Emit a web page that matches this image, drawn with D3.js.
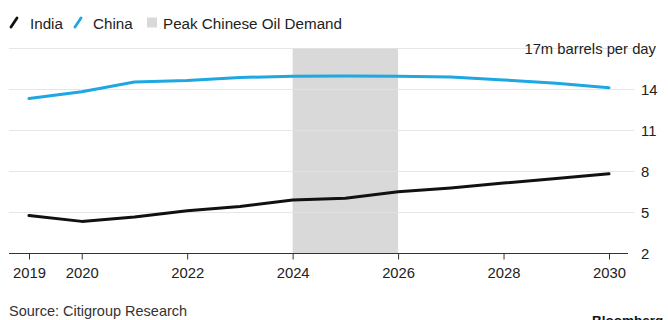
<!DOCTYPE html>
<html>
<head>
<meta charset="utf-8">
<script src="https://cdn.jsdelivr.net/npm/d3@7"></script>
<style>
  html, body { margin: 0; padding: 0; background: #fff; }
  svg { display: block; font-family: "Liberation Sans", Arial, Helvetica, sans-serif; }
</style>
</head>
<body>
<svg id="chart" width="668" height="320"></svg>
<script>
const years = [2019, 2020, 2021, 2022, 2023, 2024, 2025, 2026, 2027, 2028, 2029, 2030];
const india = [4.78, 4.35, 4.67, 5.12, 5.44, 5.92, 6.05, 6.52, 6.8, 7.15, 7.48, 7.83];
const china = [13.34, 13.83, 14.55, 14.65, 14.88, 14.97, 14.98, 14.97, 14.92, 14.7, 14.45, 14.12];
const xTicks = [2019, 2020, 2022, 2024, 2026, 2028, 2030];
const yTicks = [2, 5, 8, 11, 14, 17];
const peak = [2024, 2026];
const legendItems = ["India", "China", "Peak Chinese Oil Demand"];
const unitLabel = "m barrels per day";
const source = "Source: Citigroup Research";

const svg = d3.select("#chart");
const x = d3.scaleLinear().domain([2019, 2030]).range([29, 609]);
const y = d3.scaleLinear().domain([2, 17]).range([253.5, 48.5]);
const blue = "#1ea7e1";
const gridLeft = 9, gridRight = 634;
const fs = 14.8;

// shaded peak period
svg.append("rect")
  .attr("x", x(peak[0])).attr("width", x(peak[1]) - x(peak[0]))
  .attr("y", y(17)).attr("height", y(2) - y(17))
  .attr("fill", "#d9d9d9");

// gridlines
svg.append("g").selectAll("line").data(yTicks.slice(1)).join("line")
  .attr("x1", gridLeft).attr("x2", gridRight)
  .attr("y1", d => y(d)).attr("y2", d => y(d))
  .attr("stroke", "#e2e2e2").attr("stroke-width", 1)
  .attr("stroke-opacity", 0.85);

// y labels
svg.append("g").selectAll("text").data(yTicks).join("text")
  .attr("x", d => d === 17 ? 656 : 641)
  .attr("y", d => y(d) + 5)
  .attr("text-anchor", d => d === 17 ? "end" : "start")
  .attr("font-size", fs).attr("fill", "#222")
  .text(d => d === 17 ? d + unitLabel : d);

// x axis
const xAxis = d3.axisBottom(x).tickValues(xTicks).tickFormat(d3.format("d"))
  .tickSize(6).tickSizeOuter(0).tickPadding(8);
const gx = svg.append("g").attr("transform", `translate(0,${y(2)})`).call(xAxis);
gx.select(".domain").remove();
gx.append("line").attr("x1", gridLeft).attr("x2", 628).attr("y1", 0).attr("y2", 0)
  .attr("stroke", "#333").attr("stroke-width", 1.2);
gx.selectAll(".tick line").attr("stroke", "#333");
gx.selectAll(".tick text").attr("font-size", fs).attr("fill", "#222")
  .attr("font-family", "Liberation Sans, Arial, sans-serif");

// lines
const line = d3.line().x((d, i) => x(years[i])).y(d => y(d));
svg.append("path").datum(china).attr("d", line)
  .attr("fill", "none").attr("stroke", blue).attr("stroke-width", 3)
  .attr("stroke-linejoin", "round").attr("stroke-linecap", "round");
svg.append("path").datum(india).attr("d", line)
  .attr("fill", "none").attr("stroke", "#111").attr("stroke-width", 3)
  .attr("stroke-linejoin", "round").attr("stroke-linecap", "round");

// legend
const lg = svg.append("g").attr("font-size", 15.2).attr("fill", "#222");
lg.append("line").attr("x1", 11).attr("y1", 27).attr("x2", 17).attr("y2", 18)
  .attr("stroke", "#111").attr("stroke-width", 2.8).attr("stroke-linecap", "round");
lg.append("text").attr("x", 30).attr("y", 28.5).text(legendItems[0]);
lg.append("line").attr("x1", 75).attr("y1", 27).attr("x2", 81).attr("y2", 18)
  .attr("stroke", blue).attr("stroke-width", 2.8).attr("stroke-linecap", "round");
lg.append("text").attr("x", 93).attr("y", 28.5).text(legendItems[1]);
lg.append("rect").attr("x", 147).attr("y", 17.5).attr("width", 10).attr("height", 10)
  .attr("fill", "#d9d9d9");
lg.append("text").attr("x", 163).attr("y", 28.5).text(legendItems[2]);

// footer
svg.append("text").attr("x", 9).attr("y", 316).attr("font-size", 14.5)
  .attr("fill", "#333").text(source);
svg.append("text").attr("x", 592).attr("y", 325).attr("font-size", 13.5)
  .attr("font-weight", "bold").attr("fill", "#111").text("Bloomberg");
</script>
</body>
</html>
